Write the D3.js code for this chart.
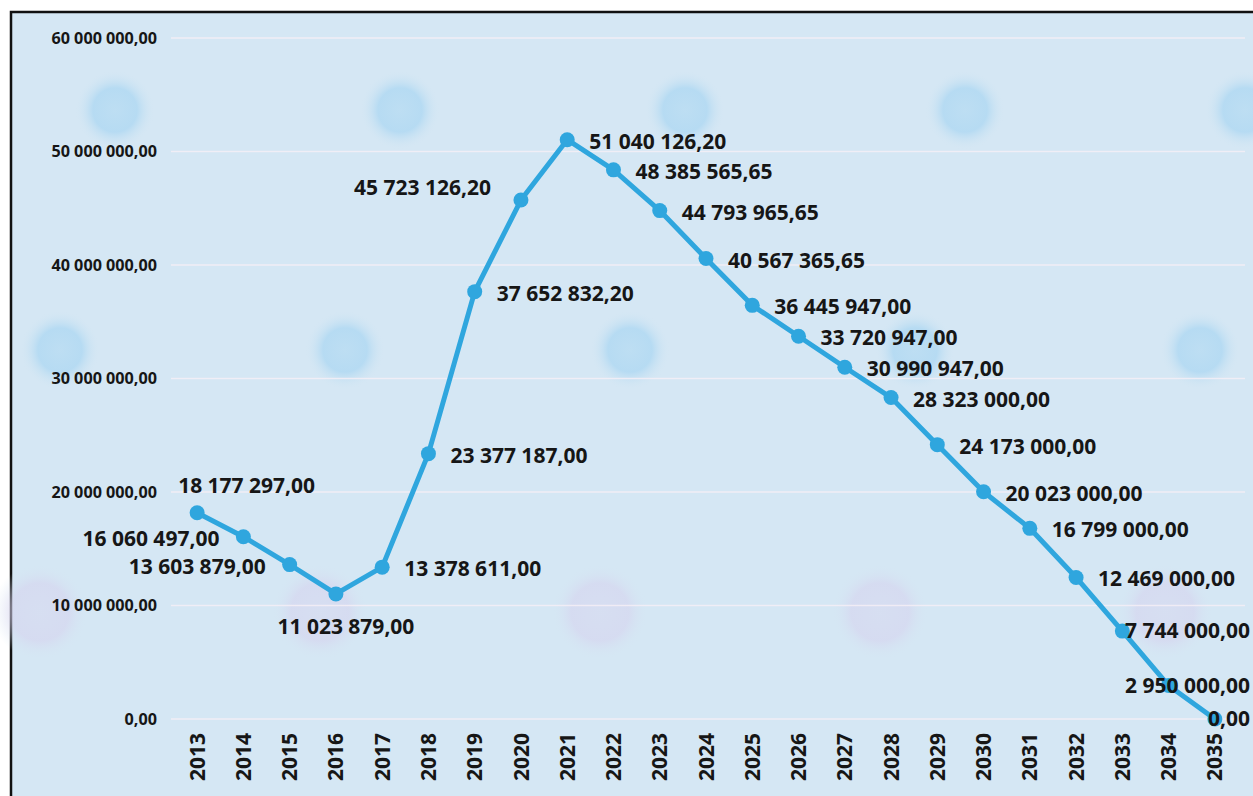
<!DOCTYPE html>
<html>
<head>
<meta charset="utf-8">
<script src="https://cdn.jsdelivr.net/npm/d3@7"></script>
<style>
  html, body { margin: 0; padding: 0; background: #fff; }
  svg { display: block; }
</style>
</head>
<body>
<div id="chart"></div>
<script>
const years = ["2013","2014","2015","2016","2017","2018","2019","2020","2021","2022","2023",
  "2024","2025","2026","2027","2028","2029","2030","2031","2032","2033","2034","2035"];
const values = [18177297.00, 16060497.00, 13603879.00, 11023879.00, 13378611.00, 23377187.00,
  37652832.20, 45723126.20, 51040126.20, 48385565.65, 44793965.65, 40567365.65, 36445947.00,
  33720947.00, 30990947.00, 28323000.00, 24173000.00, 20023000.00, 16799000.00, 12469000.00,
  7744000.00, 2950000.00, 0.00];
const labelPlace = ["above","left","left","below","right","right","right","aboveLeft","right",
  "right","right","right","right","right","right","right","right","right","right","right",
  "edge","edge","edge"];
const yTicks = [0, 10000000, 20000000, 30000000, 40000000, 50000000, 60000000];

function fmt(v){
  const parts = v.toFixed(2).split(".");
  const int = parts[0].replace(/\B(?=(\d{3})+(?!\d))/g, " ");
  return int + "," + parts[1];
}

function renderChart(){
  const W = 1253, H = 796;
  const margin = { top: 38, right: 15, bottom: 77, left: 174 };
  const width = W - margin.left - margin.right;
  const height = H - margin.top - margin.bottom;

  const svg = d3.select("#chart").append("svg")
    .attr("width", W).attr("height", H);

  const defs = svg.append("defs");
  const blueBlob = defs.append("radialGradient").attr("id", "blobBlue");
  blueBlob.append("stop").attr("offset", "0%").attr("stop-color", "#b3daf2").attr("stop-opacity", 0.7);
  blueBlob.append("stop").attr("offset", "55%").attr("stop-color", "#acd7f2").attr("stop-opacity", 0.75);
  blueBlob.append("stop").attr("offset", "100%").attr("stop-color", "#d5e7f3").attr("stop-opacity", 0);
  const pinkBlob = defs.append("radialGradient").attr("id", "blobPink");
  pinkBlob.append("stop").attr("offset", "0%").attr("stop-color", "#d8d4ee").attr("stop-opacity", 0.45);
  pinkBlob.append("stop").attr("offset", "60%").attr("stop-color", "#d6d2ee").attr("stop-opacity", 0.55);
  pinkBlob.append("stop").attr("offset", "100%").attr("stop-color", "#d5e7f3").attr("stop-opacity", 0);

  // page background + frame
  svg.append("rect").attr("x", 11).attr("y", 12).attr("width", W).attr("height", H)
    .attr("fill", "#d5e7f4").attr("stroke", "#111").attr("stroke-width", 2.5);

  // decorative blobs of the printed paper
  const blobs = svg.append("g");
  [115, 400, 685, 965, 1245].forEach(x => blobs.append("circle")
    .attr("cx", x).attr("cy", 110).attr("r", 40).attr("fill", "url(#blobBlue)"));
  [60, 345, 630, 915, 1200].forEach(x => blobs.append("circle")
    .attr("cx", x).attr("cy", 350).attr("r", 40).attr("fill", "url(#blobBlue)"));
  [40, 320, 600, 880, 1165].forEach(x => blobs.append("circle")
    .attr("cx", x).attr("cy", 612).attr("r", 48).attr("fill", "url(#blobPink)"));

  const g = svg.append("g").attr("transform", `translate(${margin.left},${margin.top})`);

  const x = d3.scaleBand().domain(years).range([0, width]);
  const y = d3.scaleLinear().domain([0, 60000000]).range([height, 0]);

  // gridlines
  g.append("g").selectAll("line").data(yTicks).join("line")
    .attr("x1", -3).attr("x2", width + 7)
    .attr("y1", d => y(d)).attr("y2", d => y(d))
    .attr("stroke", "#f4eef6").attr("stroke-opacity", 0.85).attr("stroke-width", 1.6);

  // y axis labels
  const yAxis = g.append("g")
    .call(d3.axisLeft(y).tickValues(yTicks).tickFormat(fmt).tickSize(0).tickPadding(17));
  yAxis.select(".domain").remove();
  yAxis.selectAll("text")
    .attr("font-family", "'Open Sans', sans-serif").attr("font-weight", 700)
    .attr("font-size", 16.2).attr("fill", "#161616");

  // x axis labels
  const xAxis = g.append("g").attr("transform", `translate(0,${height})`)
    .call(d3.axisBottom(x).tickSize(0).tickPadding(0));
  xAxis.select(".domain").remove();
  xAxis.selectAll("text")
    .attr("font-family", "'Open Sans', sans-serif").attr("font-weight", 700)
    .attr("font-size", 21).attr("fill", "#161616")
    .attr("text-anchor", "end").attr("dy", "0.36em")
    .attr("transform", "translate(0,14) rotate(-90)")
    .attr("x", 0).attr("y", 0);

  const pts = years.map((yr, i) => ({ yr, v: values[i], place: labelPlace[i] }));
  const cx = d => x(d.yr) + x.bandwidth() / 2;

  const line = d3.line().x(cx).y(d => y(d.v));
  g.append("path").datum(pts)
    .attr("d", line).attr("fill", "none")
    .attr("stroke", "#2fa6de").attr("stroke-width", 5).attr("stroke-linejoin", "round");

  g.selectAll(".dot").data(pts).join("circle")
    .attr("class", "dot").attr("cx", cx).attr("cy", d => y(d.v)).attr("r", 7.5)
    .attr("fill", "#2fa6de");

  const offsets = {
    above: { dx: -19, dy: -28, anchor: "start" },
    left: { dx: -24, dy: 1, anchor: "end" },
    below: { dx: 10, dy: 32, anchor: "middle" },
    right: { dx: 22, dy: 1, anchor: "start" },
    aboveLeft: { dx: -30, dy: -13, anchor: "end" }
  };

  g.selectAll(".lbl").data(pts).join("text")
    .attr("class", "lbl")
    .attr("x", d => d.place === "edge" ? width + 12 : cx(d) + offsets[d.place].dx)
    .attr("y", d => y(d.v) + (d.place === "edge" ? -1 : offsets[d.place].dy))
    .attr("text-anchor", d => d.place === "edge" ? "end" : offsets[d.place].anchor)
    .attr("dominant-baseline", "central")
    .attr("font-family", "'Open Sans', sans-serif").attr("font-weight", 700)
    .attr("font-size", 21).attr("fill", "#161616")
    .text(d => fmt(d.v));
}
renderChart();
</script>
</body>
</html>
